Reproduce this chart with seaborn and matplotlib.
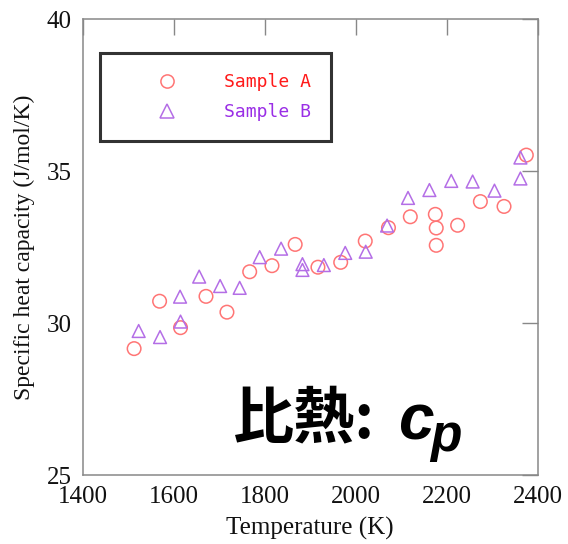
import matplotlib
matplotlib.use("Agg")
import matplotlib.pyplot as plt
from matplotlib.lines import Line2D
import seaborn as sns
import pandas as pd

# ---- data ----
a_temp = [1513, 1569, 1615, 1671, 1717, 1767, 1816, 1867, 1917, 1967,
          2021, 2072, 2120, 2175, 2177, 2177, 2224, 2274, 2326, 2375]
a_cp = [29.16, 30.72, 29.85, 30.88, 30.36, 31.69, 31.89, 32.59, 31.84, 32.00,
        32.70, 33.14, 33.50, 33.58, 33.13, 32.56, 33.22, 34.00, 33.84, 35.53]
b_temp = [1523, 1570, 1614, 1615, 1656, 1702, 1745, 1789, 1836, 1883, 1883,
          1930, 1977, 2022, 2069, 2115, 2162, 2210, 2257, 2305, 2362, 2362]
b_cp = [29.74, 29.54, 30.87, 30.05, 31.53, 31.22, 31.16, 32.17, 32.45, 31.94, 31.75,
        31.91, 32.31, 32.35, 33.21, 34.12, 34.38, 34.68, 34.66, 34.36, 34.76, 35.45]
series_names = ["Sample A", "Sample B"]
x_ticks = [1400, 1600, 1800, 2000, 2200, 2400]
y_ticks = [25, 30, 35, 40]

marker_colors = ["#ff7575", "#b46ee6"]
text_colors = ["#ff1a1a", "#9a2ee6"]
markers = ["o", "^"]

sns.set_style("white")
plt.rcParams["font.family"] = ["Liberation Serif", "DejaVu Serif"]

W, H = 568, 544
fig = plt.figure(figsize=(W / 100, H / 100), dpi=100)
ax = fig.add_axes([82.7 / W, 1 - 475 / H, (537.7 - 82.7) / W, (475 - 19.3) / H])

dfa = pd.DataFrame({"T": a_temp, "cp": a_cp})
dfb = pd.DataFrame({"T": b_temp, "cp": b_cp})
for df, m, c, s in zip([dfa, dfb], markers, marker_colors, [95, 85]):
    sns.scatterplot(data=df, x="T", y="cp", marker=m, s=s, ax=ax, legend=False)
    pts = ax.collections[-1]
    pts.set_facecolor("none")
    pts.set_edgecolor(c)
    pts.set_linewidth(1.1)

ax.set_xlim(1400, 2400)
ax.set_ylim(25, 40)
ax.set_xticks(x_ticks)
ax.set_yticks(y_ticks)
ax.set_xticklabels([str(t) for t in x_ticks])
ax.set_yticklabels([str(t) for t in y_ticks])
ax.tick_params(direction="in", length=11.3, width=1.0, color="#888888",
               top=True, right=True, labelsize=18, labelcolor="#111111")
ax.tick_params(axis="x", pad=8)
ax.tick_params(axis="y", pad=8)
for sp in ax.spines.values():
    sp.set_visible(True)
    sp.set_color("#888888")
    sp.set_linewidth(1.1)
ax.set_xlabel("Temperature (K)", fontsize=18, color="#111111", labelpad=6)
ax.set_ylabel("Specific heat capacity (J/mol/K)", fontsize=17, color="#111111", labelpad=8)

handles = [Line2D([], [], linestyle="none", marker=m, markersize=9.5,
                  markerfacecolor="none", markeredgecolor=c, markeredgewidth=1.1)
           for m, c in zip(markers, marker_colors)]
leg = ax.legend(handles, series_names, loc="upper left",
                bbox_to_anchor=(0.038, 0.926), borderaxespad=0,
                prop={"family": "DejaVu Sans Mono", "size": 13},
                handlelength=5.2, handletextpad=0.55, borderpad=1.1,
                labelspacing=0.68, frameon=True, fancybox=False)
leg.get_frame().set_edgecolor("black")
leg.get_frame().set_linewidth(2.2)
for t, c in zip(leg.get_texts(), text_colors):
    t.set_color(c)

fig.text(233 / W, 1 - 437 / H, "比熱:", fontsize=44, fontweight="bold",
         family=["Noto Sans CJK JP", "DejaVu Sans"], color="black", va="baseline", ha="left")
fig.text(398 / W, 1 - 440 / H, "c", fontsize=46, fontweight="bold", fontstyle="italic",
         family=["Liberation Sans"], color="black", va="baseline", ha="left")
fig.text(430 / W, 1 - 451 / H, "p", fontsize=37, fontweight="bold", fontstyle="italic",
         family=["Liberation Sans"], color="black", va="baseline", ha="left")

fig.savefig("out.png", dpi=100, facecolor="white")
